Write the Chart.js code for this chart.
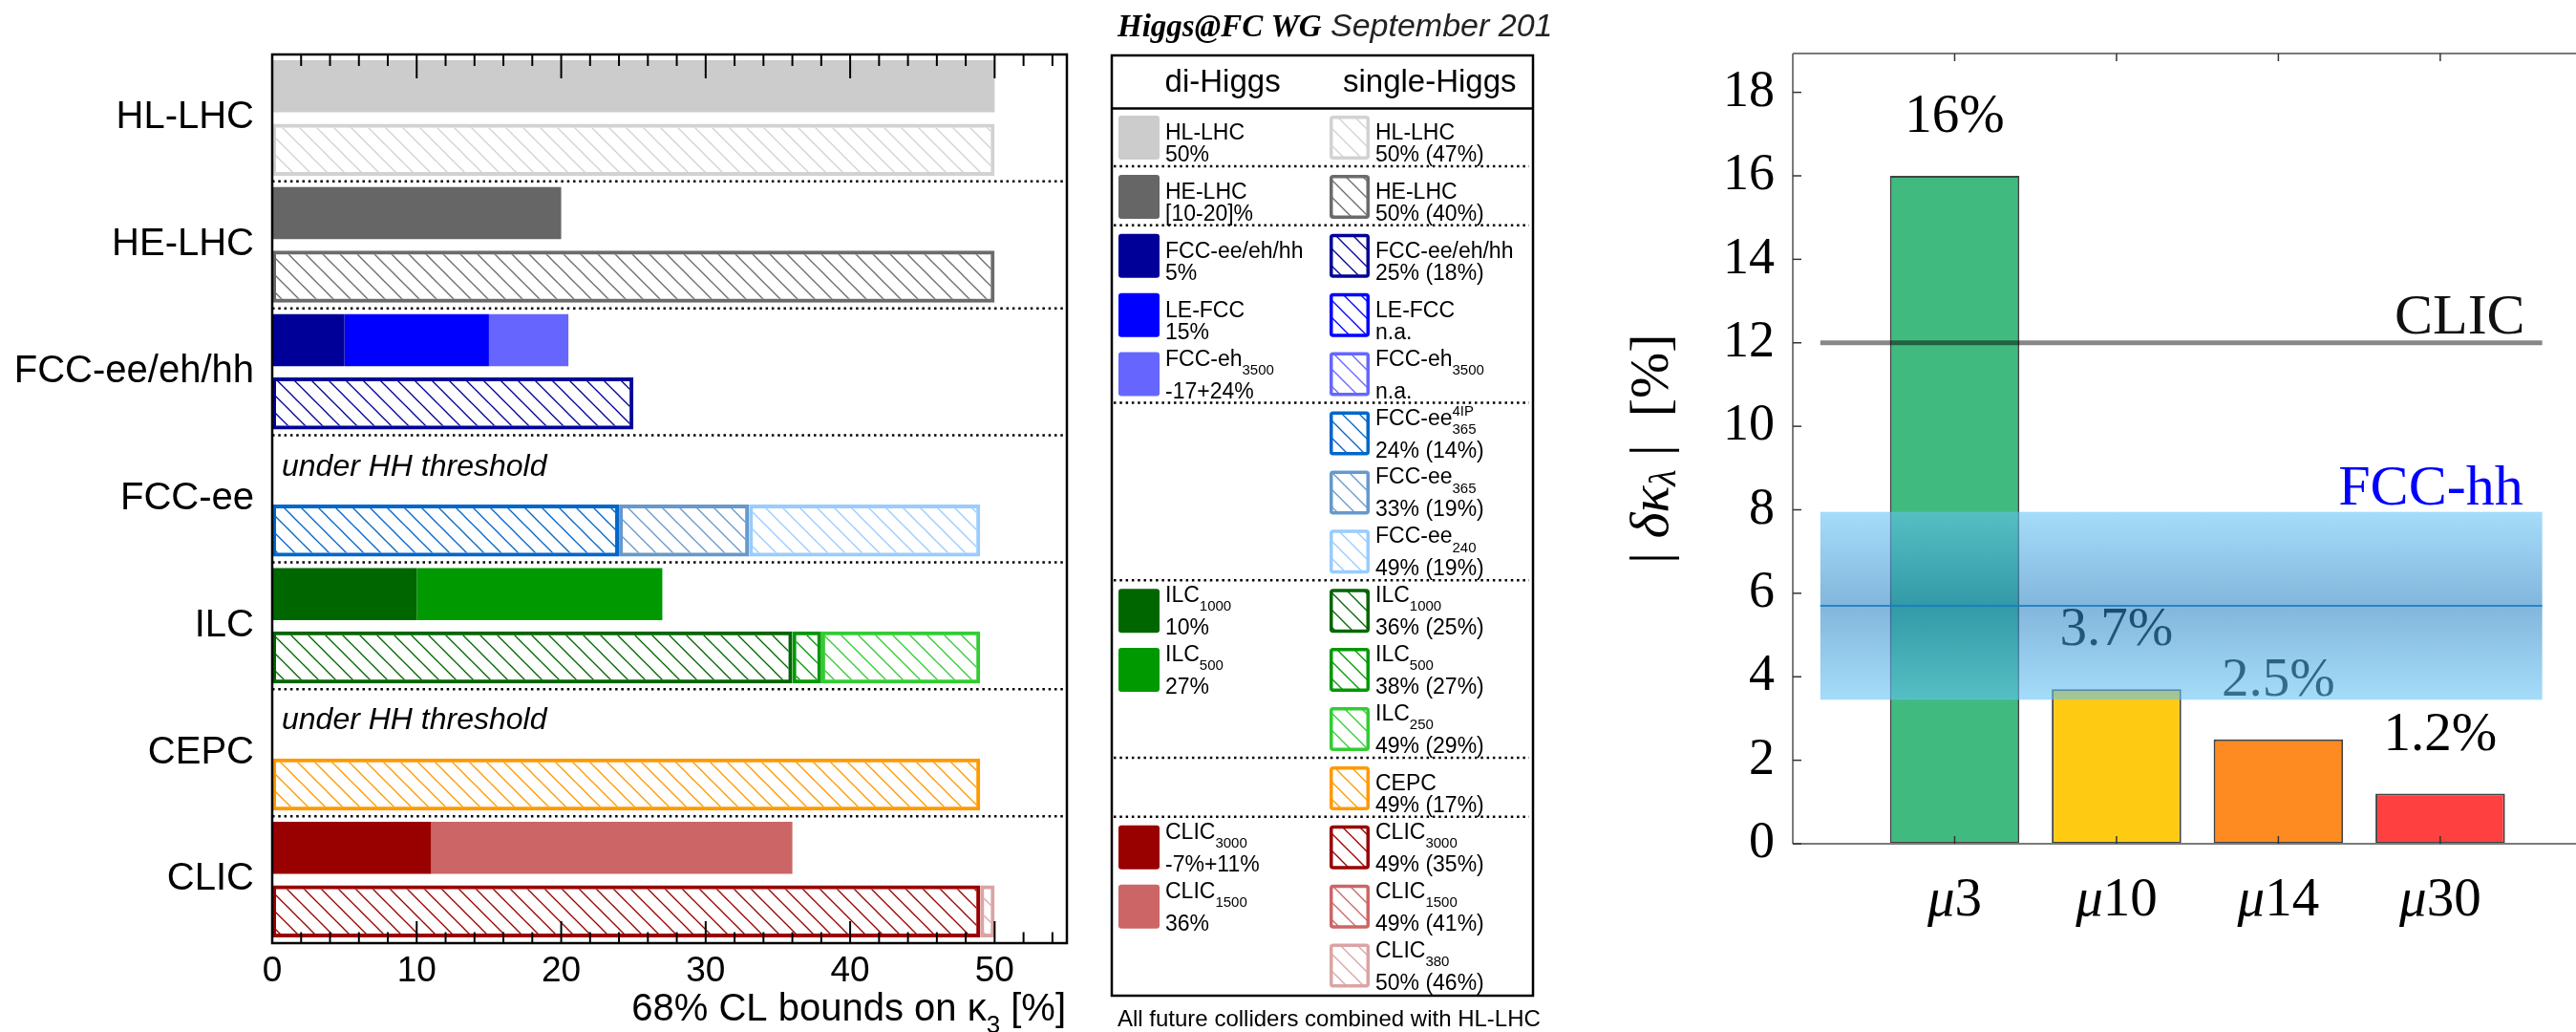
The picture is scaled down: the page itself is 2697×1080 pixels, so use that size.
<!DOCTYPE html>
<html>
<head>
<meta charset="utf-8">
<script src="https://cdn.jsdelivr.net/npm/chart.js@4.4.0/dist/chart.umd.min.js"></script>
<style>
html, body { margin: 0; padding: 0; background: #fff; width: 2697px; height: 1080px; overflow: hidden; }
#left { position: absolute; left: 0; top: 0; width: 1625px; height: 1080px; overflow: hidden; }
#right { position: absolute; left: 1640px; top: 0; width: 1057px; height: 1080px; overflow: hidden; }
canvas { display: block; }
</style>
</head>
<body>
<div id="left"><canvas id="c1" width="1625" height="1080"></canvas></div>
<div id="right"><canvas id="c2" width="1120" height="1080"></canvas></div>
<script>
// left panel: 68% CL bounds on kappa3
const colliders = ['HL-LHC', 'HE-LHC', 'FCC-ee/eh/hh', 'FCC-ee', 'ILC', 'CEPC', 'CLIC']
// di-Higgs, up to three overlapping pieces per collider (null = nothing)
const diHiggs1 = [50, 20, 5, null, 10, null, 11]
const diHiggs2 = [null, null, 15, null, 27, null, 36]
const diHiggs3 = [null, null, 20.5, null, null, null, null]
// single-Higgs
const singleHiggs1 = [50, 50, 25, 24, 36, 49, 49]
const singleHiggs2 = [null, null, null, 33, 38, null, 49]
const singleHiggs3 = [null, null, null, 49, 49, null, 50]
const kappaTicks = [0, 10, 20, 30, 40, 50]
const kappaMinorStep = 2

const diColor1 = ['#cccccc', '#666666', '#000099', null, '#006600', null, '#990000']
const diColor2 = [null, null, '#0000ff', null, '#009900', null, '#cc6666']
const diColor3 = [null, null, '#6666ff', null, null, null, null]
const sgColor1 = ['#d2d2d2', '#6b6b6b', '#000099', '#0066cc', '#006600', '#ff9900', '#990000']
const sgColor2 = [null, null, null, '#6699cc', '#009900', null, '#cc6666']
const sgColor3 = [null, null, null, '#99ccff', '#33cc33', null, '#dba4a4']

// legend texts
const legendDi = [
    [0, '#cccccc', 'HL-LHC', '50%'],
    [1, '#666666', 'HE-LHC', '[10-20]%'],
    [2, '#000099', 'FCC-ee/eh/hh', '5%'],
    [3, '#0000ff', 'LE-FCC', '15%'],
    [4, '#6666ff', 'FCC-eh_{3500}', '-17+24%'],
    [8, '#006600', 'ILC_{1000}', '10%'],
    [9, '#009900', 'ILC_{500}', '27%'],
    [12, '#990000', 'CLIC_{3000}', '-7%+11%'],
    [13, '#cc6666', 'CLIC_{1500}', '36%']
]
const legendSingle = [
    [0, '#d2d2d2', 'HL-LHC', '50% (47%)'],
    [1, '#6b6b6b', 'HE-LHC', '50% (40%)'],
    [2, '#000099', 'FCC-ee/eh/hh', '25% (18%)'],
    [3, '#0000ff', 'LE-FCC', 'n.a.'],
    [4, '#6666ff', 'FCC-eh_{3500}', 'n.a.'],
    [5, '#0066cc', 'FCC-ee^{4IP}_{365}', '24% (14%)'],
    [6, '#6699cc', 'FCC-ee_{365}', '33% (19%)'],
    [7, '#99ccff', 'FCC-ee_{240}', '49% (19%)'],
    [8, '#006600', 'ILC_{1000}', '36% (25%)'],
    [9, '#009900', 'ILC_{500}', '38% (27%)'],
    [10, '#33cc33', 'ILC_{250}', '49% (29%)'],
    [11, '#ff9900', 'CEPC', '49% (17%)'],
    [12, '#990000', 'CLIC_{3000}', '49% (35%)'],
    [13, '#cc6666', 'CLIC_{1500}', '49% (41%)'],
    [14, '#dba4a4', 'CLIC_{380}', '50% (46%)']
]
const legendBreaks = [0, 1, 4, 7, 10, 11]

// right panel: muon collider
const beams = ['3', '10', '14', '30']
const dKappa = [16, 3.7, 2.5, 1.2]
const beamColors = ['#41ba80', '#fecb12', '#fe8a22', '#fe4040']
const dKappaTicks = [0, 2, 4, 6, 8, 10, 12, 14, 16, 18]
const clicValue = 12
const fcchhBand = [3.45, 7.95]
const fcchhCentral = 5.7
const refSpan = [0.17, 4.63]

const SANS = '"Liberation Sans", Arial, sans-serif'
const SERIF = '"Liberation Serif", "Times New Roman", serif'

const c1 = document.getElementById('c1')
const ctx1 = c1.getContext('2d')

// diagonal hatch "\\\\"
const hatch = color => {
    const s = 18
    const tile = document.createElement('canvas')
    tile.width = s
    tile.height = s
    const g = tile.getContext('2d')
    g.strokeStyle = color
    g.lineWidth = 1.3
    for (let k = -1; k <= 1; k++) {
        g.beginPath()
        g.moveTo(k * s - s, -s)
        g.lineTo(k * s + 2 * s, 2 * s)
        g.stroke()
    }
    return ctx1.createPattern(tile, 'repeat')
}

const line = (ctx, x0, y0, x1, y1) => {
    ctx.beginPath()
    ctx.moveTo(x0, y0)
    ctx.lineTo(x1, y1)
    ctx.stroke()
}

// text with _{sub} and ^{sup}
const drawRich = (ctx, str, x, y, size, family, style, dry, subShift) => {
    const small = Math.round(size * 0.64)
    const down = subShift || 0.4
    const toks = str.split(/(\^\{[^}]*\}|_\{[^}]*\})/).filter(Boolean)
    let cx = x
    let last = null
    toks.forEach(t => {
        if (t[0] === '^' || t[0] === '_') {
            const s = t.slice(2, -1)
            ctx.font = style + ' ' + small + 'px ' + family
            const w = ctx.measureText(s).width
            const dy = t[0] === '^' ? -size * 0.4 : size * down
            if (last) {
                if (!dry) ctx.fillText(s, last.x, y + dy)
                cx = last.x + Math.max(w, last.w)
                last = null
            } else {
                if (!dry) ctx.fillText(s, cx, y + dy)
                last = { x: cx, w: w }
                cx += w
            }
        } else {
            last = null
            ctx.font = style + ' ' + size + 'px ' + family
            if (!dry) ctx.fillText(t, cx, y)
            cx += ctx.measureText(t).width
        }
    })
    return cx - x
}

const diPieces = [diHiggs1, diHiggs2, diHiggs3]
const sgPieces = [singleHiggs1, singleHiggs2, singleHiggs3]
const diColors = [diColor1, diColor2, diColor3]
const sgColors = [sgColor1, sgColor2, sgColor3]
const none = 'rgba(0,0,0,0)'

const piece = (set, k, i) => {
    const v = set[k][i]
    if (v == null) return null
    return [k ? set[k - 1][i] : 0, v]
}

const rowLabels = colliders.flatMap(c => [c + ' di', c + ' single'])

const leftDatasets = [0, 1, 2].map(k => ({
    data: colliders.flatMap((c, i) => [piece(diPieces, k, i), piece(sgPieces, k, i)]),
    backgroundColor: colliders.flatMap((c, i) => [diColors[k][i] || none, sgColors[k][i] ? hatch(sgColors[k][i]) : none]),
    borderColor: colliders.flatMap((c, i) => [none, sgColors[k][i] || none]),
    borderWidth: colliders.flatMap(() => [0, 4]),
    borderSkipped: false,
    grouped: false,
    categoryPercentage: 1,
    barPercentage: 0.82
}))

const leftDeco = {
    id: 'leftDeco',
    afterDraw(chart) {
        const ctx = chart.ctx, a = chart.chartArea, xs = chart.scales.x, ys = chart.scales.y
        ctx.save()
        // dotted separators
        ctx.strokeStyle = '#000'
        ctx.lineWidth = 2.5
        ctx.setLineDash([2.5, 3.8])
        for (let i = 1; i < colliders.length; i++) {
            const y = (ys.getPixelForValue(2 * i - 1) + ys.getPixelForValue(2 * i)) / 2
            line(ctx, a.left, y, a.right, y)
        }
        ctx.setLineDash([])
        // frame and inward ticks
        ctx.lineWidth = 2.5
        ctx.strokeRect(a.left, a.top, a.right - a.left, a.bottom - a.top)
        ctx.lineWidth = 2
        xs.ticks.forEach(t => {
            const x = xs.getPixelForValue(t.value)
            const major = kappaTicks.includes(t.value)
            line(ctx, x, a.top, x, a.top + (major ? 25 : 12))
            line(ctx, x, a.bottom, x, a.bottom - (major ? 23 : 11.5))
        })
        // no di-Higgs measurement
        ctx.fillStyle = '#000'
        ctx.font = 'italic 32px ' + SANS
        ctx.textBaseline = 'middle'
        diHiggs1.forEach((v, i) => {
            if (v == null) ctx.fillText('under HH threshold', xs.getPixelForValue(0) + 10, ys.getPixelForValue(2 * i))
        })
        // axis title, right aligned
        ctx.textBaseline = 'alphabetic'
        const title = '68% CL bounds on κ_{3} [%]'
        const w = drawRich(ctx, title, 0, 0, 40, SANS, '', true, 0.32)
        drawRich(ctx, title, a.right - 1 - w, 1068, 40, SANS, '', false, 0.32)

        // header
        ctx.font = 'bold italic 33px ' + SERIF
        ctx.fillText('Higgs@FC WG', 1170, 37.5)
        ctx.fillStyle = '#222'
        ctx.font = 'italic 34px ' + SANS
        ctx.fillText('September 2019', 1393, 37.5)

        // legend box
        const bx0 = 1164, bx1 = 1605, by0 = 58, by1 = 1042
        ctx.fillStyle = '#000'
        ctx.strokeStyle = '#000'
        ctx.lineWidth = 2.5
        ctx.strokeRect(bx0, by0, bx1 - bx0, by1 - by0)
        line(ctx, bx0, 113.6, bx1, 113.6)
        ctx.font = '33px ' + SANS
        ctx.fillText('di-Higgs', 1219.6, 96.4)
        ctx.fillText('single-Higgs', 1406, 96.4)
        const slotTop = k => 121 + 61.9 * k
        ctx.lineWidth = 2.5
        ctx.setLineDash([2.5, 3.8])
        legendBreaks.forEach(k => line(ctx, bx0 + 2, slotTop(k + 1) - 9, bx1 - 4, slotTop(k + 1) - 9))
        ctx.setLineDash([])
        const entryText = (x, top, name, value) => {
            ctx.fillStyle = '#000'
            const scripted = /[_^]\{/.test(name)
            drawRich(ctx, name, x, top + (scripted ? 14 : 25), 23, SANS, '')
            ctx.font = '23px ' + SANS
            ctx.fillText(value, x, top + 48)
        }
        legendDi.forEach(([k, col, name, value]) => {
            const top = slotTop(k)
            ctx.fillStyle = col
            ctx.beginPath()
            ctx.roundRect(1171, top, 43, 46, 3)
            ctx.fill()
            entryText(1220, top, name, value)
        })
        legendSingle.forEach(([k, col, name, value]) => {
            const top = slotTop(k)
            ctx.fillStyle = hatch(col)
            ctx.fillRect(1393, top + 1, 39, 44)
            ctx.strokeStyle = col
            ctx.lineWidth = 3.5
            ctx.beginPath()
            ctx.roundRect(1393.75, top + 1.75, 38.5, 42.5, 2)
            ctx.stroke()
            entryText(1440, top, name, value)
        })
        ctx.fillStyle = '#000'
        ctx.font = '24px ' + SANS
        ctx.fillText('All future colliders combined with HL-LHC', 1170, 1074)
        ctx.restore()
    }
}

new Chart(c1, {
    type: 'bar',
    data: { labels: rowLabels, datasets: leftDatasets },
    options: {
        responsive: false,
        animation: false,
        indexAxis: 'y',
        layout: { padding: { top: 57, right: 508, left: 0, bottom: 0 } },
        plugins: { legend: { display: false }, tooltip: { enabled: false } },
        scales: {
            x: {
                type: 'linear', min: 0, max: 55, offset: false,
                afterBuildTicks: s => {
                    const t = []
                    for (let v = 0; v < s.max; v += kappaMinorStep) t.push({ value: v })
                    s.ticks = t
                },
                ticks: {
                    autoSkip: false, maxRotation: 0, padding: 8, color: '#000',
                    font: { family: SANS, size: 37 },
                    callback: v => kappaTicks.includes(v) ? String(v) : ''
                },
                grid: { display: false, drawTicks: false },
                border: { display: false },
                afterFit: s => { s.height = 93 }
            },
            y: {
                type: 'category', offset: true,
                ticks: {
                    autoSkip: false, padding: 19, labelOffset: 33, color: '#000',
                    font: { family: SANS, size: 40 },
                    callback: (v, i) => i % 2 === 0 ? colliders[i / 2] : ''
                },
                grid: { display: false, drawTicks: false },
                border: { display: false },
                afterFit: s => { s.width = 285 }
            }
        }
    },
    plugins: [leftDeco]
})

// right panel
const rightDeco = {
    id: 'rightDeco',
    afterDatasetsDraw(chart) {
        const ctx = chart.ctx, xs = chart.scales.x, ys = chart.scales.y
        const meta = chart.getDatasetMeta(0)
        ctx.save()
        ctx.fillStyle = '#000'
        ctx.font = '57px ' + SERIF
        ctx.textAlign = 'center'
        ctx.textBaseline = 'middle'
        meta.data.forEach((bar, i) => ctx.fillText(dKappa[i] + '%', bar.x, bar.y - 61))

        const x0 = xs.getPixelForValue(refSpan[0]), x1 = xs.getPixelForValue(refSpan[1])
        const yc = ys.getPixelForValue(clicValue)
        ctx.strokeStyle = 'rgba(0,0,0,0.47)'
        ctx.lineWidth = 5
        line(ctx, x0, yc, x1, yc)

        const yt = ys.getPixelForValue(fcchhBand[1]), yb = ys.getPixelForValue(fcchhBand[0])
        const ym = ys.getPixelForValue(fcchhCentral)
        const g = ctx.createLinearGradient(0, yt, 0, yb)
        g.addColorStop(0, 'rgba(100,195,245,0.58)')
        g.addColorStop((ym - yt) / (yb - yt), 'rgba(40,130,195,0.58)')
        g.addColorStop(1, 'rgba(100,195,245,0.58)')
        ctx.fillStyle = g
        ctx.fillRect(x0, yt, x1 - x0, yb - yt)
        ctx.strokeStyle = 'rgba(20,125,195,0.85)'
        ctx.lineWidth = 2
        line(ctx, x0, ym, x1, ym)

        ctx.textAlign = 'right'
        ctx.textBaseline = 'alphabetic'
        ctx.font = '60px ' + SERIF
        ctx.fillStyle = '#111'
        ctx.fillText('CLIC', x1 - 18, yc - 10)
        ctx.fillStyle = '#0000ff'
        ctx.fillText('FCC-hh', x1 - 20, yt - 8)
        ctx.restore()
    },
    afterDraw(chart) {
        const ctx = chart.ctx, a = chart.chartArea, xs = chart.scales.x, ys = chart.scales.y
        ctx.save()
        ctx.strokeStyle = '#7a7a7a'
        ctx.lineWidth = 2
        line(ctx, a.left, a.top, a.left, a.bottom)
        line(ctx, a.left, a.bottom, a.right, a.bottom)
        line(ctx, a.left, a.top, a.right, a.top)
        ctx.strokeStyle = '#333'
        ctx.lineWidth = 1.5
        ys.ticks.forEach(t => {
            const y = ys.getPixelForValue(t.value)
            line(ctx, a.left, y, a.left + 9, y)
        })
        xs.ticks.forEach(t => {
            const x = xs.getPixelForValue(t.value)
            line(ctx, x, a.top, x, a.top + 8)
            line(ctx, x, a.bottom, x, a.bottom - 8)
        })
        // category labels: italic mu + upright energy
        ctx.fillStyle = '#000'
        ctx.textBaseline = 'alphabetic'
        ctx.textAlign = 'left'
        beams.forEach((b, i) => {
            ctx.font = 'italic 57px ' + SERIF
            const wm = ctx.measureText('μ').width
            ctx.font = '57px ' + SERIF
            const wd = ctx.measureText(b).width
            const x = xs.getPixelForValue(i + 1) - (wm + wd) / 2
            ctx.font = 'italic 57px ' + SERIF
            ctx.fillText('μ', x, 958)
            ctx.font = '57px ' + SERIF
            ctx.fillText(b, x + wm, 958)
        })
        // y title |δκ_λ| [%]
        const parts = [['|', '', 58, 0], [' δκ', 'italic ', 58, 0], ['λ', 'italic ', 40, 12], [' |  [%]', '', 58, 0]]
        let total = 0
        parts.forEach(p => { ctx.font = p[1] + p[2] + 'px ' + SERIF; total += ctx.measureText(p[0]).width })
        ctx.translate(a.left - 146, (a.top + a.bottom) / 2)
        ctx.rotate(-Math.PI / 2)
        ctx.textBaseline = 'middle'
        let px = -total / 2
        parts.forEach(p => {
            ctx.font = p[1] + p[2] + 'px ' + SERIF
            ctx.fillText(p[0], px, p[3])
            px += ctx.measureText(p[0]).width
        })
        ctx.restore()
    }
}

new Chart(document.getElementById('c2'), {
    type: 'bar',
    data: {
        datasets: [{
            data: dKappa.map((v, i) => ({ x: i + 1, y: v })),
            backgroundColor: beamColors,
            borderColor: 'rgba(20,20,20,0.8)',
            borderWidth: 2,
            borderSkipped: false,
            barPercentage: 0.8,
            categoryPercentage: 1
        }]
    },
    options: {
        responsive: false,
        animation: false,
        layout: { padding: { top: 56, right: 56, left: 0, bottom: 0 } },
        plugins: { legend: { display: false }, tooltip: { enabled: false } },
        scales: {
            x: {
                type: 'linear', min: 0, max: 4.88, offset: false,
                afterBuildTicks: s => { s.ticks = beams.map((b, i) => ({ value: i + 1 })) },
                ticks: { display: false },
                grid: { display: false, drawTicks: false },
                border: { display: false },
                afterFit: s => { s.height = 197 }
            },
            y: {
                type: 'linear', min: 0, max: 18.93,
                afterBuildTicks: s => { s.ticks = dKappaTicks.map(v => ({ value: v })) },
                ticks: {
                    padding: 19, color: '#000',
                    font: { family: SERIF, size: 54 },
                    callback: v => String(v)
                },
                grid: { display: false, drawTicks: false },
                border: { display: false },
                afterFit: s => { s.width = 237 }
            }
        }
    },
    plugins: [rightDeco]
})
</script>
</body>
</html>
